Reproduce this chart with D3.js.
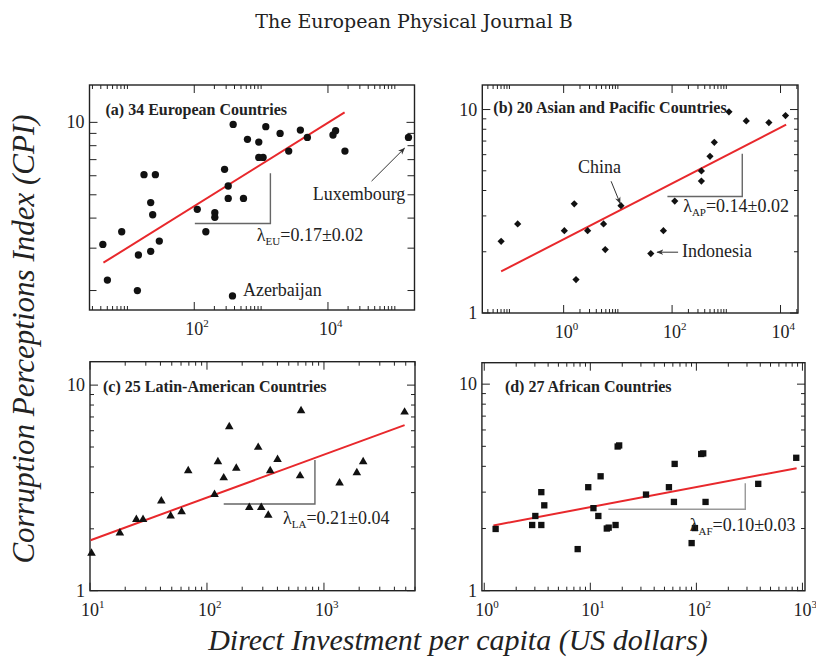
<!DOCTYPE html>
<html>
<head>
<meta charset="utf-8">
<style>
  body { margin: 0; background: #fff; }
  svg text { font-family: "Liberation Serif", "Times New Roman", serif; fill: #222; }
  .frame { fill: none; stroke: #222; stroke-width: 1.4; }
  .tick { stroke: #222; stroke-width: 1; }
  .fit { stroke: #e8282c; stroke-width: 2; fill: none; }
  .slope { stroke-width: 1.4; fill: none; }
  .arrow { stroke: #333; stroke-width: 1; fill: none; }
  .title { font-weight: bold; font-size: 16px; }
  .ticklabel { font-size: 18px; }
  .note { font-size: 18px; }
  .axistitle { font-style: italic; }
  svg text.header { font-family: "DejaVu Serif", serif; font-size: 19px; }
</style>
</head>
<body>
<svg id="chart" width="816" height="657"></svg>
<script src="https://cdn.jsdelivr.net/npm/d3@7/dist/d3.min.js"></script>
<script>
// (a) European countries
var euX = [4.29, 5.02, 8.22, 14.1, 14.6, 17.7, 22.3, 22.3, 23.9, 26.2, 30.0, 111, 149, 203, 203, 284, 322, 322, 373, 382,
  545, 625, 923, 923, 1071, 1175, 1923, 2588, 3866, 4920, 11890, 13010, 17950, 160000];
var euY = [3.11, 2.21, 3.51, 2.00, 2.81, 6.06, 4.64, 2.91, 4.13, 6.06, 3.21, 4.35, 3.51, 4.21, 4.03, 6.38, 5.44, 4.83, 1.90, 9.81,
  4.83, 8.50, 8.28, 7.15, 7.15, 9.60, 9.00, 7.60, 9.29, 8.66, 8.86, 9.23, 7.60, 8.66];
// (b) Asian and Pacific countries
var apX = [0.0703, 0.142, 1.03, 1.57, 1.69, 2.77, 5.45, 5.85, 11.4, 40.5, 69.2, 112, 347, 347, 500, 601, 1119, 2333, 6095, 12360];
var apY = [2.25, 2.74, 2.54, 3.44, 1.46, 2.54, 2.74, 2.05, 3.37, 1.96, 2.54, 3.55, 4.45, 4.99, 5.89, 6.90, 9.74, 8.79, 8.63, 9.34];
// (c) Latin-American countries
var laX = [10.3, 18.0, 24.9, 28.4, 40.7, 48.9, 60.7, 69.1, 116, 124, 139, 155, 178, 230, 274, 291, 334, 347, 401, 625,
  637, 1359, 1909, 2163, 4888];
var laY = [1.52, 1.91, 2.22, 2.22, 2.73, 2.31, 2.42, 3.83, 2.94, 4.24, 3.54, 6.27, 3.94, 2.54, 4.98, 2.54, 2.33, 3.83, 4.35, 3.62,
  7.50, 3.34, 3.75, 4.24, 7.39];
// (d) African countries
var afX = [1.28, 2.83, 3.03, 3.45, 3.45, 3.68, 7.60, 9.56, 10.7, 11.9, 12.5, 14.3, 14.9, 17.3, 18.1, 18.7, 33.5, 55.1, 62.4, 61.4,
  111, 116, 122, 90.2, 96.9, 383, 874];
var afY = [1.99, 2.08, 2.30, 3.00, 2.08, 2.59, 1.59, 3.17, 2.51, 2.30, 3.58, 2.00, 2.02, 2.08, 4.99, 5.05, 2.92, 3.17, 4.11, 2.69,
  4.59, 4.62, 2.69, 1.70, 2.01, 3.29, 4.40];

// power-law fits: end points [x0, x1], [y0, y1]
var euFitX = [4.38, 17740], euFitY = [2.61, 11.0];
var apFitX = [0.0703, 12700], apFitY = [1.60, 8.43];
var laFitX = [10.1, 4888], laFitY = [1.76, 6.39];
var afFitX = [1.22, 881], afFitY = [2.07, 3.92];

// slope triangles
var euTriX = [102, 1377], euTriY = [3.80, 6.14];
var apTriX = [82, 1969], apTriY = [3.74, 6.07];
var laTriX = [139, 837], laTriY = [2.64, 4.32];
var afTriX = [14.8, 289], afTriY = [2.48, 3.31];

var titles = ['(a) 34 European Countries', '(b) 20 Asian and Pacific Countries',
  '(c) 25 Latin-American Countries', '(d) 27 African Countries'];
var lambdaSub = ['EU', 'AP', 'LA', 'AF'];
var lambdaVal = ['=0.17\u00b10.02', '=0.14\u00b10.02', '=0.21\u00b10.04', '=0.10\u00b10.03'];
// where the lambda text starts (data coords)
var lambdaAt = [[863, 3.21], [160, 3.13], [447, 2.11], [86.7, 1.95]];

var svg = d3.select('#chart');

var defs = svg.append('defs');
defs.append('marker')
  .attr('id', 'head')
  .attr('viewBox', '0 0 10 10')
  .attr('refX', 9).attr('refY', 5)
  .attr('markerWidth', 7).attr('markerHeight', 7)
  .attr('orient', 'auto')
  .append('path')
  .attr('d', 'M0,1 L10,5 L0,9 L3,5 Z')
  .attr('fill', '#333');

var panels = [
  { x: [89.5, 414.5], y: [85, 310], xDom: [2.71, 1.97e5], yDom: [1.66, 14.3], xStep: 2, yMinorLen: 7,
    xs: euX, ys: euY, shape: 'circle', fitX: euFitX, fitY: euFitY, triX: euTriX, triY: euTriY,
    triColor: '#666', titleOff: [16, 30] },
  { x: [482.3, 798], y: [85, 313], xDom: [0.0316, 2.1e4], yDom: [1, 13.2], xStep: 2, yMinorLen: 4,
    xs: apX, ys: apY, shape: 'diamond', fitX: apFitX, fitY: apFitY, triX: apTriX, triY: apTriY,
    triColor: '#666', titleOff: [11, 28] },
  { x: [90, 415], y: [361.7, 590.7], xDom: [10, 6000], yDom: [1, 13], xStep: 1, yMinorLen: 4,
    xs: laX, ys: laY, shape: 'triangle', fitX: laFitX, fitY: laFitY, triX: laTriX, triY: laTriY,
    triColor: '#666', titleOff: [13, 30] },
  { x: [481.9, 805], y: [362.7, 590.7], xDom: [0.95, 1057], yDom: [1, 12.7], xStep: 1, yMinorLen: 4,
    xs: afX, ys: afY, shape: 'square', fitX: afFitX, fitY: afFitY, triX: afTriX, triY: afTriY,
    triColor: '#999', titleOff: [23, 29] }
];

function logTicks(dom, step, lastK) {
  var lo = Math.floor(Math.log10(dom[0])), hi = Math.ceil(Math.log10(dom[1]));
  var out = [];
  for (var d = lo; d <= hi; d++) {
    if (((d % step) + step) % step !== 0) continue;
    out.push({ v: Math.pow(10, d), major: true, e: d });
    for (var k = 2; k <= lastK; k++) out.push({ v: k * Math.pow(10, d), major: false });
  }
  return out.filter(function (t) { return t.v >= dom[0] * 0.999 && t.v <= dom[1] * 1.001; });
}

panels.forEach(function (p, i) {
  var x = d3.scaleLog().domain(p.xDom).range(p.x);
  var y = d3.scaleLog().domain(p.yDom).range([p.y[1], p.y[0]]);
  var g = svg.append('g');

  // ticks, drawn inward on all four sides
  var xt = logTicks(p.xDom, p.xStep, p.xStep === 2 ? 10 : 9);
  var yt = logTicks(p.yDom, 1, 9);
  xt.forEach(function (t) {
    var len = t.major ? 8 : 4;
    g.append('line').attr('class', 'tick')
      .attr('x1', x(t.v)).attr('x2', x(t.v)).attr('y1', p.y[1]).attr('y2', p.y[1] - len);
    g.append('line').attr('class', 'tick')
      .attr('x1', x(t.v)).attr('x2', x(t.v)).attr('y1', p.y[0]).attr('y2', p.y[0] + len);
    if (t.major) {
      var tx = g.append('text').attr('class', 'ticklabel')
        .attr('x', x(t.v) - 9).attr('y', p.y[1] + 25);
      tx.append('tspan').text('10');
      tx.append('tspan').attr('dy', -8).attr('font-size', '11px').text(t.e);
    }
  });
  yt.forEach(function (t) {
    var len = t.major ? 8 : p.yMinorLen;
    g.append('line').attr('class', 'tick')
      .attr('x1', p.x[0]).attr('x2', p.x[0] + len).attr('y1', y(t.v)).attr('y2', y(t.v));
    g.append('line').attr('class', 'tick')
      .attr('x1', p.x[1]).attr('x2', p.x[1] - len).attr('y1', y(t.v)).attr('y2', y(t.v));
    if (t.major) {
      g.append('text').attr('class', 'ticklabel')
        .attr('x', p.x[0] - 5).attr('y', y(t.v) + 6).attr('text-anchor', 'end')
        .text(t.v >= 10 ? '10' : '1');
    }
  });

  g.append('rect').attr('class', 'frame')
    .attr('x', p.x[0]).attr('y', p.y[0])
    .attr('width', p.x[1] - p.x[0]).attr('height', p.y[1] - p.y[0]);

  // slope triangle
  g.append('path').attr('class', 'slope').attr('stroke', p.triColor)
    .attr('d', d3.line()([[x(p.triX[0]), y(p.triY[0])], [x(p.triX[1]), y(p.triY[0])], [x(p.triX[1]), y(p.triY[1])]]));

  // fit line
  g.append('path').attr('class', 'fit')
    .attr('d', d3.line()([[x(p.fitX[0]), y(p.fitY[0])], [x(p.fitX[1]), y(p.fitY[1])]]));

  // markers
  var sym = {
    circle: d3.symbol().type(d3.symbolCircle).size(42),
    diamond: d3.symbol().type(d3.symbolSquare).size(26),
    triangle: d3.symbol().type(d3.symbolTriangle).size(32),
    square: d3.symbol().type(d3.symbolSquare).size(40)
  }[p.shape];
  g.selectAll('path.pt')
    .data(p.xs.map(function (v, j) { return [v, p.ys[j]]; }))
    .join('path')
    .attr('class', 'pt')
    .attr('fill', '#111')
    .attr('d', sym)
    .attr('transform', function (d) {
      return 'translate(' + x(d[0]) + ',' + y(d[1]) + ')' + (p.shape === 'diamond' ? ' rotate(45)' : '');
    });

  // panel title
  g.append('text').attr('class', 'title')
    .attr('x', p.x[0] + p.titleOff[0]).attr('y', p.y[0] + p.titleOff[1])
    .text(titles[i]);

  // lambda label
  var lt = g.append('text').attr('class', 'note')
    .attr('x', x(lambdaAt[i][0])).attr('y', y(lambdaAt[i][1]));
  lt.append('tspan').text('\u03bb');
  lt.append('tspan').attr('dy', 4).attr('font-size', '11px').text(lambdaSub[i]);
  lt.append('tspan').attr('dy', -4).text(lambdaVal[i]);

  p.xScale = x;
  p.yScale = y;
});

// annotations
function note(p, txt, at) {
  svg.append('text').attr('class', 'note')
    .attr('x', p.xScale(at[0])).attr('y', p.yScale(at[1])).text(txt);
}
function arrow(p, from, to) {
  svg.append('line').attr('class', 'arrow')
    .attr('x1', p.xScale(from[0])).attr('y1', p.yScale(from[1]))
    .attr('x2', p.xScale(to[0])).attr('y2', p.yScale(to[1]))
    .attr('marker-end', 'url(#head)');
}
note(panels[0], 'Luxembourg', [5915, 4.76]);
arrow(panels[0], [44900, 5.70], [139600, 7.81]);
note(panels[0], 'Azerbaijan', [534, 1.90]);
note(panels[1], 'China', [1.84, 4.86]);
arrow(panels[1], [7.5, 4.44], [11.0, 3.46]);
note(panels[1], 'Indonesia', [153, 1.88]);
arrow(panels[1], [129, 1.99], [52.9, 1.99]);

// page header and shared axis titles
svg.append('text').attr('class', 'header')
  .attr('x', 414).attr('y', 28).attr('text-anchor', 'middle')
  .text('The European Physical Journal B');
svg.append('text').attr('class', 'axistitle')
  .attr('font-size', '31px')
  .attr('transform', 'translate(34,339) rotate(-90)').attr('text-anchor', 'middle')
  .text('Corruption Perceptions Index (CPI)');
svg.append('text').attr('class', 'axistitle')
  .attr('font-size', '30px')
  .attr('x', 458).attr('y', 650).attr('text-anchor', 'middle')
  .text('Direct Investment per capita (US dollars)');
</script>
</body>
</html>
